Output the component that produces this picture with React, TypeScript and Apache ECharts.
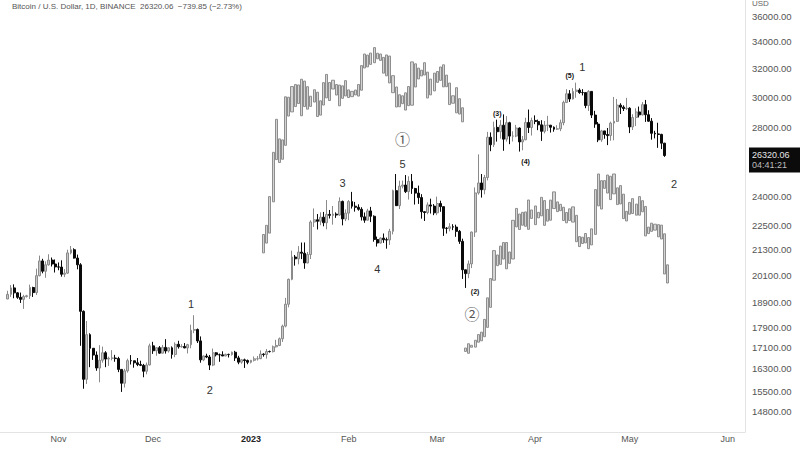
import React, { useEffect, useRef } from "react";
import * as echarts from "echarts";

// ---------- data ----------
const axisStart = "2022-10-14";
const axisEnd = "2023-06-06";

const btcStart = "2022-10-16";
// daily candles: [open, high, low, close]
const btcDaily: number[][] = [
  [19068, 19425, 19064, 19268], [19268, 19676, 19160, 19550], [19550, 19706, 19100, 19334], [19334, 19360, 19074, 19139],
  [19139, 19345, 18900, 19053], [19053, 19250, 18650, 19173], [19173, 19248, 19132, 19208], [19208, 19695, 19071, 19567],
  [19567, 19601, 19157, 19345], [19345, 20415, 19242, 20095], [20095, 21020, 20063, 20771], [20771, 20872, 20200, 20295],
  [20295, 20750, 20000, 20591], [20591, 21085, 20552, 20810], [20810, 20931, 20514, 20627], [20627, 20840, 20237, 20495],
  [20495, 20700, 20340, 20485], [20485, 20800, 20050, 20159], [20159, 20394, 20031, 20209], [20209, 21302, 20180, 21148],
  [21148, 21480, 21080, 21300], [21300, 21368, 20880, 20905], [20905, 21069, 20384, 20591], [20591, 20667, 17166, 18547],
  [18547, 18587, 15588, 15922], [15922, 18150, 15754, 17601], [17601, 17655, 16361, 17070], [17070, 17070, 16631, 16813],
  [16813, 16950, 16229, 16330], [16330, 17190, 15815, 16619], [16619, 17134, 16527, 16900], [16900, 16960, 16361, 16662],
  [16662, 16752, 16410, 16692], [16692, 16999, 16615, 16700], [16700, 16820, 16560, 16680], [16680, 16746, 16180, 16280],
  [16280, 16292, 15476, 15781], [15781, 16300, 15630, 16226], [16226, 16676, 16161, 16603], [16603, 16812, 16458, 16598],
  [16598, 16600, 16342, 16522], [16522, 16701, 16400, 16458], [16458, 16600, 16401, 16428], [16428, 16483, 15995, 16212],
  [16212, 16531, 16103, 16442], [16442, 17250, 16428, 17163],
  [17163, 17320, 16856, 16977], [16977, 17105, 16787, 17092], [17092, 17158, 16860, 16885], [16885, 17199, 16880, 17105],
  [17105, 17424, 16867, 16967], [16967, 17107, 16907, 17088], [17088, 17142, 16678, 16836], [16836, 17299, 16733, 17224],
  [17224, 17360, 17058, 17128], [17128, 17227, 17092, 17140], [17140, 17272, 17071, 17085], [17085, 17241, 16873, 17208],
  [17208, 18000, 17071, 17775], [17775, 18387, 17660, 17804], [17804, 17846, 17275, 17356], [17356, 17531, 16527, 16632],
  [16632, 16800, 16585, 16776], [16776, 16863, 16697, 16738], [16738, 16815, 16256, 16439], [16439, 17061, 16397, 16897],
  [16897, 16925, 16761, 16825], [16825, 16868, 16559, 16821], [16821, 16955, 16775, 16778], [16778, 16869, 16770, 16837],
  [16837, 16865, 16721, 16830], [16830, 16944, 16791, 16919], [16919, 16972, 16592, 16706], [16706, 16785, 16470, 16547],
  [16547, 16664, 16488, 16633], [16633, 16677, 16333, 16607], [16607, 16644, 16470, 16542],
  [16542, 16630, 16499, 16616], [16616, 16760, 16572, 16672], [16672, 16777, 16606, 16675], [16675, 16991, 16660, 16850],
  [16850, 16879, 16753, 16831], [16831, 17041, 16679, 16950], [16950, 16981, 16908, 16943], [16943, 17176, 16911, 17127],
  [17127, 17398, 17100, 17178], [17178, 17490, 17154, 17440], [17440, 18000, 17315, 17943], [17943, 19117, 17892, 18846],
  [18846, 19964, 18714, 19930], [19930, 21258, 19889, 20954], [20954, 21050, 20551, 20871], [20871, 21474, 20611, 21185],
  [21185, 21647, 20857, 21133], [21133, 21650, 20407, 20677], [20677, 21192, 20659, 21071], [21071, 22755, 20861, 22667],
  [22667, 23371, 22422, 22783], [22783, 23078, 22292, 22707], [22707, 23165, 22506, 22916], [22916, 23188, 22451, 22632],
  [22632, 23816, 22300, 23060], [23060, 23290, 22850, 23009], [23009, 23500, 22534, 23074], [23074, 23165, 22880, 23027],
  [23027, 23960, 22985, 23743], [23743, 23785, 22500, 22827], [22827, 23320, 22714, 23125],
  [23125, 23812, 22760, 23732], [23732, 24255, 23363, 23488], [23488, 23715, 23204, 23431], [23431, 23587, 23253, 23326],
  [23326, 23433, 22745, 22932], [22932, 23158, 22628, 22762], [22762, 23350, 22745, 23240], [23240, 23452, 22665, 22963],
  [22963, 23011, 21688, 21796], [21796, 21938, 21451, 21625], [21625, 21906, 21599, 21862], [21862, 22091, 21630, 21783],
  [21783, 21890, 21351, 21773], [21773, 22322, 21532, 22199], [22199, 24380, 22047, 24324], [24324, 25250, 23505, 23517],
  [23517, 24873, 23339, 24569], [24569, 24877, 24450, 24631], [24631, 25192, 24192, 24271], [24271, 25121, 23840, 24840],
  [24840, 25250, 24148, 24439], [24439, 24476, 23574, 24189], [24189, 24600, 23608, 23947], [23947, 24132, 22841, 23199],
  [23199, 23218, 22722, 23157], [23157, 23689, 23068, 23555], [23555, 23888, 23105, 23492], [23492, 23600, 23020, 23141],
  [23141, 23999, 23020, 23628], [23628, 23779, 23195, 23465], [23465, 23476, 21971, 22354], [22354, 22410, 22088, 22346],
  [22346, 22610, 22198, 22430], [22430, 22557, 22258, 22410], [22410, 22534, 21927, 22197], [22197, 22267, 21580, 21705],
  [21705, 21834, 19949, 20362], [20362, 20367, 19549, 20187], [20187, 20792, 19980, 20633], [20633, 22185, 20439, 22163],
  [22163, 24500, 21918, 24197], [24197, 26386, 24107, 24746], [24746, 25250, 23946, 24375], [24375, 25198, 24124, 25052],
  [25052, 27756, 24890, 27423], [27423, 27724, 26578, 26965], [26965, 28400, 26829, 28038], [28038, 28528, 27155, 27767],
  [27767, 28500, 27337, 28175], [28175, 28868, 26601, 27307], [27307, 28754, 27155, 28333], [28333, 28392, 27000, 27493],
  [27493, 27792, 27163, 27494], [27494, 28194, 27426, 27994], [27994, 28037, 26555, 27139], [27139, 27500, 26631, 27268],
  [27268, 28650, 27241, 28348], [28348, 29184, 27686, 28028], [28028, 28656, 27525, 28478],
  [28478, 28804, 28240, 28411], [28411, 28531, 27864, 28199], [28199, 28495, 27200, 27790], [27790, 28444, 27665, 28168],
  [28168, 28775, 27805, 28175], [28175, 28190, 27711, 28044], [28044, 28100, 27766, 27925], [27925, 28175, 27874, 27947],
  [27947, 28530, 27800, 28333], [28333, 29770, 28170, 29653], [29653, 30550, 29610, 30235], [30235, 30484, 29686, 29884],
  [29884, 30620, 29852, 30395], [30395, 31000, 29966, 30485], [30485, 30607, 30233, 30318], [30318, 30550, 30123, 30315],
  [30315, 30319, 29272, 29446], [29446, 30485, 29095, 30397], [30397, 30412, 28634, 28823], [28823, 29100, 28010, 28245],
  [28245, 28374, 27125, 27262], [27262, 27882, 27140, 27817], [27817, 27820, 27331, 27591], [27591, 28000, 26942, 27525],
  [27525, 28400, 27207, 28307], [28307, 30020, 27235, 28422], [28422, 29887, 28377, 29473], [29473, 29599, 28891, 29340],
  [29340, 29459, 29088, 29248], [29248, 29960, 29150, 29268],
  [29268, 29338, 27680, 28068], [28068, 28879, 27872, 28669], [28669, 29266, 28120, 29026], [29026, 29379, 28670, 28838],
  [28838, 29677, 28796, 29506], [29506, 29820, 28385, 28848], [28848, 29138, 28395, 28430], [28430, 28627, 27273, 27668],
  [27668, 27820, 27353, 27628], [27628, 28331, 26777, 27598], [27598, 27638, 26702, 27060], [27060, 27080, 26240, 26320],
];

// projected bar pattern placed in January-March: [low, high]
const upperFractalStart = "2023-01-05";
const upperFractal: number[][] = [
  [21150, 22040], [21620, 22500], [22110, 24000], [23720, 26510], [26080, 28550], [25910, 27320], [26100, 27260],
  [26930, 30030], [28760, 30000], [29030, 30730], [29380, 30870], [29580, 30840], [28780, 31240], [29380, 31110],
  [29210, 30720], [29390, 30070], [29680, 30510], [28730, 30340], [28820, 29760], [29480, 31000], [29960, 31580],
  [29780, 31010], [30560, 31170], [30150, 30870], [29430, 30830], [29930, 30780], [30090, 31140], [29980, 30500],
  [30040, 30400], [30160, 30490], [30080, 30870], [30480, 32210], [32040, 33060], [32120, 32980], [32300, 33130],
  [32420, 33540], [32710, 33120], [32590, 33060], [31670, 32810], [31480, 32990], [30980, 32910], [30310, 31490],
  [29350, 30700], [29370, 30170], [29570, 30100], [29150, 30300], [29440, 30730], [29470, 32480], [30700, 32340],
  [31260, 32030], [31470, 31880], [31540, 32420], [29950, 31740], [30160, 31250], [30430, 31670], [31020, 31790],
  [31160, 32110], [30710, 32270], [30720, 31530], [29510, 30970], [29600, 30100], [28970, 30650], [28890, 29900],
  [28390, 29300],
];

// projected bar pattern placed in March-May: [low, high]
const lowerFractalStart = "2023-03-10";
const lowerFractal: number[][] = [
  [16950, 17080], [16880, 17245], [17110, 17185], [17115, 17380], [17305, 17605], [17360, 17700], [17520, 18215],
  [17892, 19117], [18714, 19964], [19889, 21258], [20551, 21050], [20611, 21474], [20857, 21647], [20407, 21650],
  [20659, 21192], [20861, 22755], [22422, 23371], [22292, 23078], [22506, 23165], [22451, 23188], [22300, 23816],
  [22850, 23290], [22534, 23500], [22880, 23165], [22985, 23960], [22500, 23785], [22714, 23320], [22760, 23812],
  [23363, 24255], [23204, 23715], [23253, 23587], [22745, 23433], [22628, 23158], [22745, 23350], [22665, 23452],
  [21688, 23011], [21451, 21938], [21599, 21906], [21630, 22091], [21351, 21890], [21532, 22322], [22047, 24380],
  [23505, 25250], [23339, 24873], [24450, 24877], [24192, 25192], [23840, 25121], [24148, 25250], [23574, 24476],
  [23608, 24600], [22841, 24132], [22722, 23218], [23068, 23689], [23105, 23888], [23020, 23600], [23020, 23999],
  [23195, 23779], [21971, 23476], [22088, 22410], [22198, 22610], [22258, 22557], [21927, 22534], [21820, 22510],
  [20170, 22075], [19765, 20590],
];

const priceTicks = [14800, 15500, 16300, 17100, 17900, 18900, 20100, 21300, 22500, 24000, 28000, 30000, 32000, 34000, 36000];
const priceMin = 14144;
const priceMax = 37325;

const lastPrice = 26320.06;
const lastChange = -739.85;
const lastChangePct = -2.73;
const countdown = "04:41:21";
const symbolTitle = "Bitcoin / U.S. Dollar, 1D, BINANCE";

const monthNames = ["Jan", "Feb", "Mar", "Apr", "May", "Jun", "Jul", "Aug", "Sep", "Oct", "Nov", "Dec"];

// wave annotations: date, price, text, style kind
const waveLabels: [string, number, string, string][] = [
  ["2022-12-13", 18855, "1", "big"],
  ["2022-12-19", 15543, "2", "big"],
  ["2023-01-30", 24745, "3", "big"],
  ["2023-02-10", 20385, "4", "big"],
  ["2023-02-18", 25823, "5", "big"],
  ["2023-02-18", 27358, "\u2460", "circle"],
  ["2023-03-12", 18465, "\u2461", "circle"],
  ["2023-03-13", 19410, "(2)", "small"],
  ["2023-03-20", 28939, "(3)", "small"],
  ["2023-03-29", 25958, "(4)", "small"],
  ["2023-04-12", 31538, "(5)", "small"],
  ["2023-04-16", 32132, "1", "big"],
  ["2023-05-15", 24689, "2", "big"],
];

// ---------- helpers ----------
const DAY = 86400000;
function dayList(start: string, end: string): string[] {
  const out: string[] = [];
  let t = Date.parse(start + "T00:00:00Z");
  const e = Date.parse(end + "T00:00:00Z");
  while (t <= e) {
    out.push(new Date(t).toISOString().slice(0, 10));
    t += DAY;
  }
  return out;
}
function addDays(start: string, n: number): string {
  return new Date(Date.parse(start + "T00:00:00Z") + n * DAY).toISOString().slice(0, 10);
}

const FONT = "'Liberation Sans', Arial, sans-serif";

export default function App() {
  const ref = useRef<HTMLDivElement>(null);

  useEffect(() => {
    if (!ref.current) return;
    const chart = echarts.init(ref.current, null, { renderer: "svg" });
    const categories = dayList(axisStart, axisEnd);

    const mainData = btcDaily.map((r, k) => [addDays(btcStart, k), r[0], r[3], r[2], r[1]]);
    const upperData = upperFractal.map((r, k) => [addDays(upperFractalStart, k), r[0], r[1], r[0], r[1]]);
    const lowerData = lowerFractal.map((r, k) => [addDays(lowerFractalStart, k), r[0], r[1], r[0], r[1]]);

    const labelStyles: Record<string, any> = {
      big: { fontSize: 11, color: "#333", fontFamily: FONT },
      small: { fontSize: 7, color: "#111", fontWeight: "bold", fontFamily: FONT },
      circle: { fontSize: 15, color: "#555", fontFamily: "'Noto Sans CJK SC', 'DejaVu Sans', sans-serif" },
    };

    const markData = waveLabels.map(([d, p, t, kind]) => ({
      coord: [d, p],
      symbol: "circle",
      symbolSize: 1,
      itemStyle: { color: "rgba(0,0,0,0)" },
      label: { show: true, position: "inside", formatter: t, ...labelStyles[kind] },
    }));

    const ghostStyle = {
      color: "#d4d4d4",
      color0: "#d4d4d4",
      borderColor: "#8e8e8e",
      borderColor0: "#8e8e8e",
      borderWidth: 1,
    };

    const option: any = {
      animation: false,
      backgroundColor: "#ffffff",
      grid: { left: 0, right: 55, top: 0, bottom: 18 },
      xAxis: {
        type: "category",
        data: categories,
        boundaryGap: true,
        axisLine: { show: true, lineStyle: { color: "#e3e3e3", width: 1 } },
        axisTick: { show: false },
        splitLine: { show: false },
        axisLabel: {
          margin: 2,
          fontSize: 9,
          color: "#555",
          fontFamily: FONT,
          interval: (_i: number, v: string) => v.slice(8) === "01",
          formatter: (v: string) => {
            const m = parseInt(v.slice(5, 7), 10);
            if (m === 1) return "{y|" + v.slice(0, 4) + "}";
            return monthNames[m - 1];
          },
          rich: { y: { fontSize: 9, fontWeight: "bold", color: "#222", fontFamily: FONT } },
        },
      },
      yAxis: {
        type: "log",
        position: "right",
        min: priceMin,
        max: priceMax,
        axisLine: { show: true, lineStyle: { color: "#e3e3e3", width: 1 } },
        axisTick: { show: false },
        splitLine: { show: false },
        axisLabel: {
          customValues: priceTicks,
          margin: 7,
          fontSize: 9.5,
          color: "#555",
          fontFamily: FONT,
          formatter: (v: number) => Number(v).toFixed(2),
        },
      },
      series: [
        {
          name: "upperFractal",
          type: "candlestick",
          data: upperData,
          encode: { x: 0, y: [1, 2, 3, 4] },
          barWidth: 2.6,
          itemStyle: ghostStyle,
          z: 1,
        },
        {
          name: "lowerFractal",
          type: "candlestick",
          data: lowerData,
          encode: { x: 0, y: [1, 2, 3, 4] },
          barWidth: 2.6,
          itemStyle: ghostStyle,
          z: 1,
        },
        {
          name: "BTCUSD",
          type: "candlestick",
          data: mainData,
          encode: { x: 0, y: [1, 2, 3, 4] },
          barWidth: 2.4,
          itemStyle: {
            color: "#c8c8c8",
            color0: "#0a0a0a",
            borderColor: "#8a8a8a",
            borderColor0: "#0a0a0a",
            borderWidth: 1,
          },
          z: 2,
          markPoint: { animation: false, data: markData },
        },
      ],
    };
    chart.setOption(option);

    const py = chart.convertToPixel({ yAxisIndex: 0 }, lastPrice) as number;
    const sign = (n: number) => (n < 0 ? "\u2212" + Math.abs(n).toFixed(2) : "+" + n.toFixed(2));
    chart.setOption({
      graphic: [
        {
          type: "text",
          left: 12,
          top: 2,
          style: {
            text: `${symbolTitle}  ${lastPrice.toFixed(2)}  ${sign(lastChange)} (${sign(lastChangePct)}%)`,
            fontSize: 8,
            fill: "#555",
            fontFamily: FONT,
          },
        },
        {
          type: "text",
          left: 752,
          top: -1,
          style: { text: "USD", fontSize: 8, fill: "#666", fontFamily: FONT },
        },
        {
          type: "rect",
          shape: { x: 749, y: py - 8, width: 51, height: 25 },
          style: { fill: "#0b0b0b" },
          z: 10,
        },
        {
          type: "text",
          x: 752,
          y: py - 5,
          style: { text: lastPrice.toFixed(2), fontSize: 9, fill: "#e6e6e6", fontFamily: FONT },
          z: 11,
        },
        {
          type: "text",
          x: 752,
          y: py + 5,
          style: { text: countdown, fontSize: 9, fill: "#bdbdbd", fontFamily: FONT },
          z: 11,
        },
      ],
    });

    return () => chart.dispose();
  }, []);

  return (
    <div
      ref={ref}
      style={{ position: "fixed", left: 0, top: 0, width: 800, height: 450, background: "#fff" }}
    />
  );
}
